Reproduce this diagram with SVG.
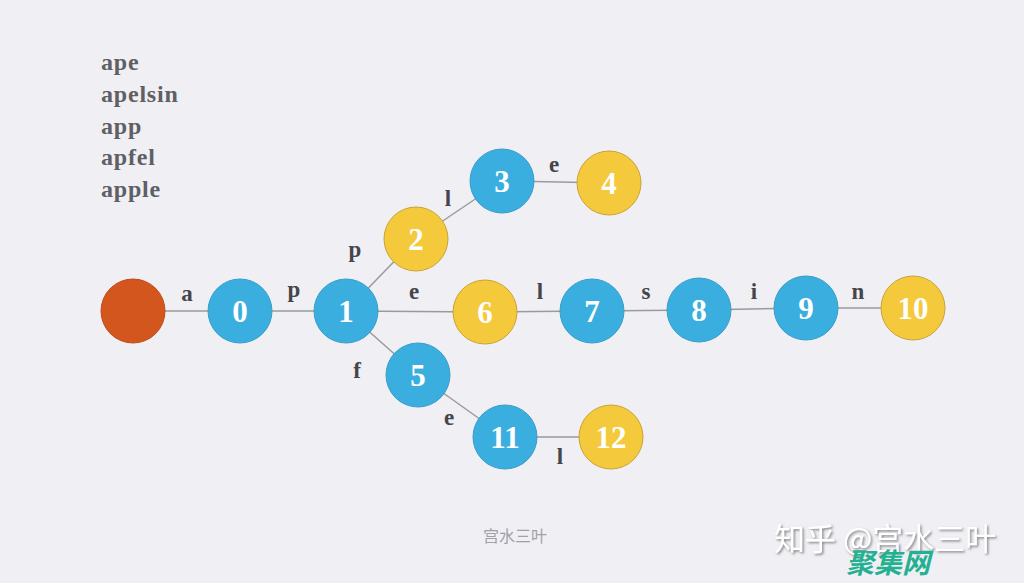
<svg xmlns="http://www.w3.org/2000/svg" width="1024" height="583" viewBox="0 0 1024 583">
<defs>
<filter id="sh" x="-10%" y="-30%" width="120%" height="160%">
<feDropShadow dx="1.5" dy="1.5" stdDeviation="0.8" flood-color="#6a6a70" flood-opacity="0.8"/>
</filter>
</defs>
<style>
.bg{fill:#F0F0F4}
.e{stroke:#9a9a9e;stroke-width:1.5;fill:none}
.n circle{stroke-width:1}
.b circle{fill:#3AAFDF;stroke:#3A9CC8}
.y circle{fill:#F5C93C;stroke:#C9A23A}
.r circle{fill:#D4561F;stroke:#C04A18}
.n text{font-family:"Liberation Serif",serif;font-weight:bold;font-size:31px;fill:#fff;text-anchor:middle}
.lb{font-family:"Liberation Serif",serif;font-weight:bold;font-size:23px;fill:#45454b;text-anchor:middle}
.w{font-family:"Liberation Serif",serif;font-weight:bold;font-size:24px;letter-spacing:0.8px;fill:#5f5f66}
</style>
<rect class="bg" width="1024" height="583"/>
<g id="words">
<text class="w" x="101" y="70">ape</text>
<text class="w" x="101" y="102">apelsin</text>
<text class="w" x="101" y="134">app</text>
<text class="w" x="101" y="165">apfel</text>
<text class="w" x="101" y="197">apple</text>
</g>
<g id="connectors">
<line class="e" x1="133" y1="311" x2="240" y2="311"/>
<line class="e" x1="240" y1="311" x2="346" y2="311"/>
<line class="e" x1="346" y1="311" x2="416" y2="239"/>
<line class="e" x1="416" y1="239" x2="502" y2="181"/>
<line class="e" x1="502" y1="181" x2="609" y2="183"/>
<line class="e" x1="346" y1="311" x2="485" y2="312"/>
<line class="e" x1="485" y1="312" x2="592" y2="311"/>
<line class="e" x1="592" y1="311" x2="699" y2="310"/>
<line class="e" x1="699" y1="310" x2="806" y2="308"/>
<line class="e" x1="806" y1="308" x2="913" y2="308"/>
<line class="e" x1="346" y1="311" x2="418" y2="375"/>
<line class="e" x1="418" y1="375" x2="505" y2="437"/>
<line class="e" x1="505" y1="437" x2="611" y2="437"/>
<text class="lb" x="187" y="301">a</text>
<text class="lb" x="294" y="297">p</text>
<text class="lb" x="355" y="257">p</text>
<text class="lb" x="448" y="206">l</text>
<text class="lb" x="554" y="172">e</text>
<text class="lb" x="414" y="299">e</text>
<text class="lb" x="540" y="299">l</text>
<text class="lb" x="646" y="299">s</text>
<text class="lb" x="754" y="299">i</text>
<text class="lb" x="858" y="299">n</text>
<text class="lb" x="357" y="378">f</text>
<text class="lb" x="449" y="425">e</text>
<text class="lb" x="560" y="464">l</text>
</g>
<g id="root" class="n r"><circle cx="133" cy="311" r="32"/></g>
<g id="n0" class="n b"><circle cx="240" cy="311" r="32"/><text x="240" y="322">0</text></g>
<g id="n1" class="n b"><circle cx="346" cy="311" r="32"/><text x="346" y="322">1</text></g>
<g id="n2" class="n y"><circle cx="416" cy="239" r="32"/><text x="416" y="250">2</text></g>
<g id="n3" class="n b"><circle cx="502" cy="181" r="32"/><text x="502" y="192">3</text></g>
<g id="n4" class="n y"><circle cx="609" cy="183" r="32"/><text x="609" y="194">4</text></g>
<g id="n5" class="n b"><circle cx="418" cy="375" r="32"/><text x="418" y="386">5</text></g>
<g id="n6" class="n y"><circle cx="485" cy="312" r="32"/><text x="485" y="323">6</text></g>
<g id="n7" class="n b"><circle cx="592" cy="311" r="32"/><text x="592" y="322">7</text></g>
<g id="n8" class="n b"><circle cx="699" cy="310" r="32"/><text x="699" y="321">8</text></g>
<g id="n9" class="n b"><circle cx="806" cy="308" r="32"/><text x="806" y="319">9</text></g>
<g id="n10" class="n y"><circle cx="913" cy="308" r="32"/><text x="913" y="319">10</text></g>
<g id="n11" class="n b"><circle cx="505" cy="437" r="32"/><text x="505" y="448">11</text></g>
<g id="n12" class="n y"><circle cx="611" cy="437" r="32"/><text x="611" y="448">12</text></g>
<g id="credits">
<text x="515" y="542" font-family="'Noto Sans CJK SC',sans-serif" font-size="16" fill="#a0a0a6" text-anchor="middle">宫水三叶</text>
<text x="774" y="550" font-family="'Noto Sans CJK SC',sans-serif" font-size="31" fill="#ffffff" filter="url(#sh)">知乎 @宫水三叶</text>
<text x="846" y="573" font-family="'Noto Sans CJK SC',sans-serif" font-size="28" font-weight="bold" font-style="italic" fill="#26b092">聚集网</text>
</g>
</svg>
